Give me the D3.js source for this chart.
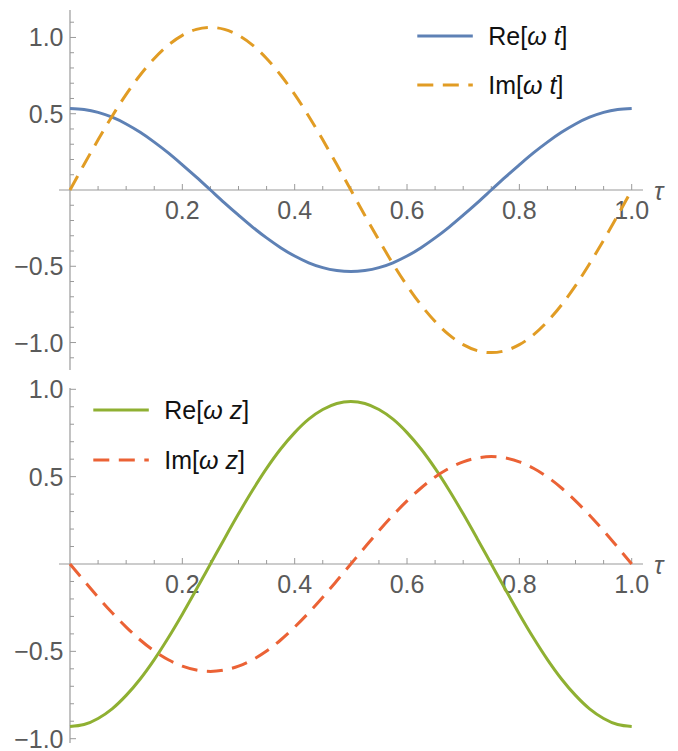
<!DOCTYPE html>
<html>
<head>
<meta charset="utf-8">
<script src="https://cdn.jsdelivr.net/npm/d3@7"></script>
<style>
  body { margin: 0; background: #fff; }
  svg { display: block; }
  text { font-family: "Liberation Sans", Arial, sans-serif; }
</style>
</head>
<body>
<svg id="chart" width="678" height="751"></svg>
<script>
// ---- data ----
const tau = [0, 0.025, 0.05, 0.075, 0.1, 0.125, 0.15, 0.175, 0.2, 0.225, 0.25,
             0.275, 0.3, 0.325, 0.35, 0.375, 0.4, 0.425, 0.45, 0.475, 0.5,
             0.525, 0.55, 0.575, 0.6, 0.625, 0.65, 0.675, 0.7, 0.725, 0.75,
             0.775, 0.8, 0.825, 0.85, 0.875, 0.9, 0.925, 0.95, 0.975, 1.0];
const reWt = [0.535, 0.528, 0.509, 0.477, 0.433, 0.378, 0.314, 0.243, 0.165, 0.084, 0,
              -0.084, -0.165, -0.243, -0.314, -0.378, -0.433, -0.477, -0.509, -0.528, -0.535,
              -0.528, -0.509, -0.477, -0.433, -0.378, -0.314, -0.243, -0.165, -0.084, 0,
              0.084, 0.165, 0.243, 0.314, 0.378, 0.433, 0.477, 0.509, 0.528, 0.535];
const imWt = [0, 0.167, 0.329, 0.484, 0.627, 0.754, 0.862, 0.950, 1.014, 1.053, 1.066,
              1.053, 1.014, 0.950, 0.862, 0.754, 0.627, 0.484, 0.329, 0.167, 0,
              -0.167, -0.329, -0.484, -0.627, -0.754, -0.862, -0.950, -1.014, -1.053, -1.066,
              -1.053, -1.014, -0.950, -0.862, -0.754, -0.627, -0.484, -0.329, -0.167, 0];
const reWz = [-0.930, -0.919, -0.884, -0.829, -0.752, -0.658, -0.547, -0.422, -0.287, -0.145, 0,
              0.145, 0.287, 0.422, 0.547, 0.658, 0.752, 0.829, 0.884, 0.919, 0.930,
              0.919, 0.884, 0.829, 0.752, 0.658, 0.547, 0.422, 0.287, 0.145, 0,
              -0.145, -0.287, -0.422, -0.547, -0.658, -0.752, -0.829, -0.884, -0.919, -0.930];
const imWz = [0, -0.096, -0.190, -0.279, -0.361, -0.435, -0.498, -0.548, -0.585, -0.607, -0.615,
              -0.607, -0.585, -0.548, -0.498, -0.435, -0.361, -0.279, -0.190, -0.096, 0,
              0.096, 0.190, 0.279, 0.361, 0.435, 0.498, 0.548, 0.585, 0.607, 0.615,
              0.607, 0.585, 0.548, 0.498, 0.435, 0.361, 0.279, 0.190, 0.096, 0];
const xTickLabels = [0.2, 0.4, 0.6, 0.8, 1.0];
const yTickLabels = [-1.0, -0.5, 0.5, 1.0];
const legendTop = ["Re", "Im"];
const legendBottom = ["Re", "Im"];

const svg = d3.select("#chart");
const axisColor = "#9a9a9a";
const labelColor = "#5a5a5a";
const fontSize = 25;
const fmt = v => (v < 0 ? "\u2212" : "") + Math.abs(v).toFixed(1);

function panel(cfg) {
  const x = d3.scaleLinear().domain([0, 1]).range([70, 631.7]);
  const y = d3.scaleLinear().domain(cfg.yDomain).range(cfg.yRange);
  const g = svg.append("g");
  const y0 = y(0);

  g.append("line").attr("x1", 59).attr("x2", 643).attr("y1", y0).attr("y2", y0)
    .attr("stroke", axisColor).attr("stroke-width", 1.2);
  g.append("line").attr("x1", x(0)).attr("x2", x(0))
    .attr("y1", cfg.yAxisTop).attr("y2", cfg.yAxisBottom)
    .attr("stroke", axisColor).attr("stroke-width", 1.2);

  const xMinor = d3.range(1, 21).map(i => i * 0.05);
  xMinor.forEach(v => {
    const major = Math.abs(v * 5 - Math.round(v * 5)) < 1e-6;
    g.append("line").attr("x1", x(v)).attr("x2", x(v))
      .attr("y1", y0).attr("y2", y0 - (major ? 6 : 4))
      .attr("stroke", axisColor).attr("stroke-width", 1);
  });
  const yMinor = d3.range(-11, 12).map(i => i * 0.1)
    .filter(v => Math.abs(v) > 1e-6 && y(v) >= cfg.yAxisTop - 0.5 && y(v) <= cfg.yAxisBottom + 0.5);
  yMinor.forEach(v => {
    const major = Math.abs(v * 2 - Math.round(v * 2)) < 1e-6;
    g.append("line").attr("x1", x(0)).attr("x2", x(0) + (major ? 6 : 4))
      .attr("y1", y(v)).attr("y2", y(v))
      .attr("stroke", axisColor).attr("stroke-width", 1);
  });

  g.selectAll(".xl").data(xTickLabels).enter().append("text")
    .attr("x", d => x(d)).attr("y", y0 + 28.5)
    .attr("text-anchor", "middle").attr("fill", labelColor)
    .attr("font-size", fontSize).text(d => d.toFixed(1));
  g.selectAll(".yl").data(yTickLabels).enter().append("text")
    .attr("x", 63.5).attr("y", d => y(d) + 9)
    .attr("text-anchor", "end").attr("fill", labelColor)
    .attr("font-size", fontSize).text(d => fmt(d));
  g.append("text").attr("x", 654).attr("y", y0 + 10)
    .attr("fill", labelColor).attr("font-size", fontSize).attr("font-style", "italic")
    .text("\u03C4");

  const line = d3.line().x((d, i) => x(tau[i])).y(d => y(d)).curve(d3.curveMonotoneX);
  cfg.series.forEach(s => {
    g.append("path").attr("d", line(s.values)).attr("fill", "none")
      .attr("stroke", s.color).attr("stroke-width", 3)
      .attr("stroke-dasharray", s.dashed ? "16,9.5" : null);
  });

  cfg.series.forEach((s, i) => {
    const ly = cfg.legendY[i];
    g.append("line").attr("x1", cfg.legendX).attr("x2", cfg.legendX + 55.5)
      .attr("y1", ly).attr("y2", ly)
      .attr("stroke", s.color).attr("stroke-width", 3)
      .attr("stroke-dasharray", s.dashed ? "16,9.5" : null);
    const t = g.append("text").attr("x", cfg.legendX + 71).attr("y", ly + 9)
      .attr("font-size", fontSize).attr("fill", "#111").style("white-space", "pre");
    t.append("tspan").text(s.label + "[");
    t.append("tspan").attr("font-style", "italic").text("\u03C9");
    t.append("tspan").text(" ");
    t.append("tspan").attr("font-style", "italic").text(cfg.var);
    t.append("tspan").text("]");
  });
}

panel({
  yDomain: [-1.18, 1.18], yRange: [370, 10], yAxisTop: 10, yAxisBottom: 370,
  series: [
    { label: legendTop[0], values: reWt, color: "#5e81b5", dashed: false },
    { label: legendTop[1], values: imWt, color: "#e19c24", dashed: true }
  ],
  legendX: 417.3, legendY: [36, 85], var: "t"
});

panel({
  yDomain: [-1, 1], yRange: [738.7, 389.3], yAxisTop: 388, yAxisBottom: 743,
  series: [
    { label: legendBottom[0], values: reWz, color: "#8fb032", dashed: false },
    { label: legendBottom[1], values: imWz, color: "#eb6235", dashed: true }
  ],
  legendX: 93.3, legendY: [410, 460], var: "z"
});
</script>
</body>
</html>
